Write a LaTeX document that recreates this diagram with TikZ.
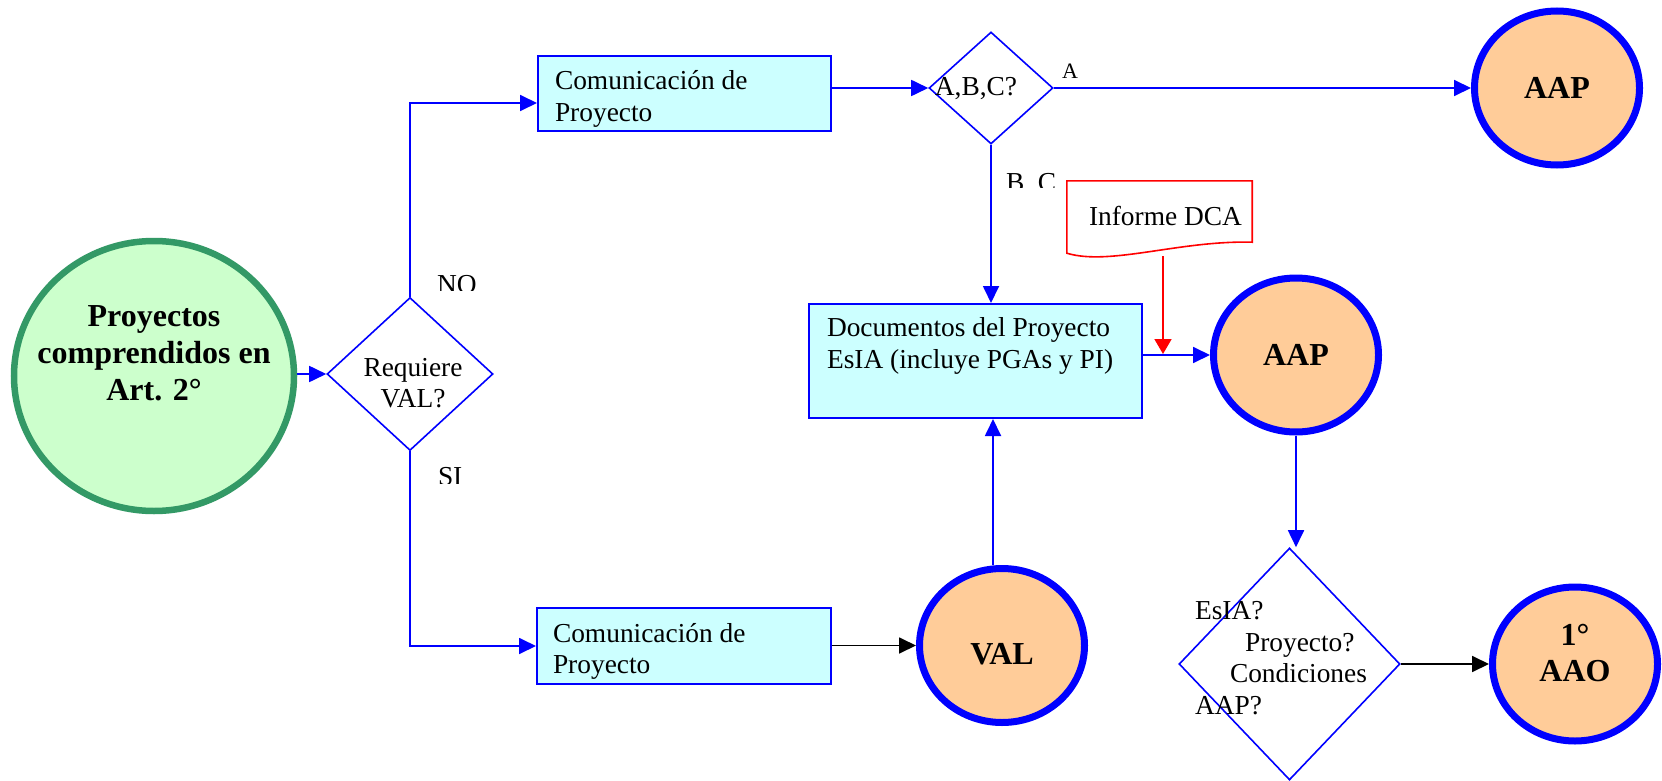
\documentclass[tikz,border=0pt]{standalone}
\usepackage{fontspec}
\setmainfont{Liberation Serif}
\usetikzlibrary{shapes.geometric,arrows.meta,calc}

\definecolor{flowblue}{HTML}{0000FF}
\definecolor{boxfill}{HTML}{CCFFFF}
\definecolor{termfill}{HTML}{FFCC99}
\definecolor{startfill}{HTML}{CCFFCC}
\definecolor{startline}{HTML}{339966}
\definecolor{noteline}{HTML}{FF0000}

\tikzset{
  plain/.style={font=\fontsize{27.4}{31.6}\selectfont, inner sep=0pt, outer sep=0pt},
  small/.style={font=\fontsize{22}{26}\selectfont, inner sep=0pt, outer sep=0pt},
  heavy/.style={font=\fontsize{32}{36.8}\selectfont\bfseries, inner sep=0pt, outer sep=0pt, align=center},
  procbox/.style={rectangle, draw=flowblue, line width=2pt, fill=boxfill, inner sep=0pt},
  decision/.style={diamond, draw=flowblue, line width=1.6pt, fill=white, inner sep=0pt, aspect=1},
  terminal/.style={ellipse, draw=flowblue, line width=7pt, fill=termfill, inner sep=0pt,
    minimum width=165pt, minimum height=154pt,
    font=\fontsize{32}{36.8}\selectfont\bfseries},
  tip/.style={-{Triangle[length=17pt,width=16pt]}},
  flow/.style={tip, draw=flowblue, line width=1.8pt},
  blackflow/.style={tip, draw=black, line width=1.8pt},
  redflow/.style={-{Triangle[length=15pt,width=17pt]}, draw=noteline, line width=1.8pt},
}

\begin{document}
\begin{tikzpicture}[x=1pt,y=-1pt]
  \useasboundingbox (0,0) rectangle (1662,781);
  \fill[white] (0,0) rectangle (1662,781);

  % start
  \node[ellipse, draw=startline, line width=6.5pt, fill=startfill, inner sep=0pt,
        minimum width=280pt, minimum height=270pt] (green) at (154,376) {};
  \node[heavy] (greentxt) at ($(green.center)+(0,-23)$) {Proyectos\\comprendidos en\\Art. 2°};

  % first decision
  \node[decision, minimum width=166pt, minimum height=153pt] (d1) at (410,374) {};
  \node[plain, align=center] (d1txt) at ($(d1.center)+(3,9)$) {Requiere\\VAL?};

  % upper branch
  \node[procbox, minimum width=293pt, minimum height=75pt] (box1) at (684.5,93.5) {};
  \node[plain, align=left, anchor=west] (box1txt) at ($(box1.west)+(18,5.5)$) {Comunicación de\\Proyecto};

  \node[decision, minimum width=124pt, minimum height=112pt] (d2) at (991,88) {};
  \node[plain] (d2txt) at ($(d2.center)+(-15,1)$) {A,B,C?};

  \node[terminal] (aap1) at (1557,88) {AAP};

  \node[procbox, minimum width=333pt, minimum height=114pt] (docs) at (975.5,361) {};
  \node[plain, align=left, anchor=west] (docstxt) at ($(docs.west)+(19,-15)$) {Documentos del Proyecto\\EsIA (incluye PGAs y PI)};

  % report document
  \node[minimum width=185pt, minimum height=72pt, inner sep=0pt] (dca) at (1159.5,217) {};
  \draw[noteline, line width=1.6pt, fill=white]
    (dca.north west) -- (dca.north east) -- ($(dca.south east)+(0,-11)$)
    .. controls ($(dca.south west)+(113,-13)$) and ($(dca.south west)+(43,13)$) .. (dca.south west)
    -- cycle;
  \node[plain, anchor=base west] (dcatxt) at (1089,225) {Informe DCA};
  \coordinate (dcaOut) at (1163,256);
  \coordinate (dcaIn) at (1163,354);

  \node[terminal] (aap2) at (1296,355) {AAP};

  \node[decision, minimum width=221pt, minimum height=232pt] (d3) at (1289.5,664) {};
  \node[plain, align=left, anchor=west] (d3txt) at (1195,658)
    {EsIA?\\\hspace*{50pt}Proyecto?\\\hspace*{35pt}Condiciones\\AAP?};

  \node[terminal] (aao) at (1575,664) {};
  \node[heavy] (aaotxt) at ($(aao.center)+(0,-11)$) {1°\\AAO};

  % lower branch
  \node[procbox, minimum width=294pt, minimum height=76pt] (box3) at (684,646) {};
  \node[plain, align=left, anchor=west] (box3txt) at ($(box3.west)+(17,5.5)$) {Comunicación de\\Proyecto};

  \node[terminal] (val) at (1002,645.5) {};
  \node[heavy] (valtxt) at ($(val.center)+(0,9)$) {VAL};
  \coordinate (valTop) at ($(val.north)+(-9,0)$);

  % connectors
  \draw[flow] (green.east |- d1.west) -- (d1.west);
  \draw[flow] (d1.north) |- ($(box1.west)+(0,9.5)$);
  \draw[flow] (d1.south) |- (box3.west);
  \draw[flow] (box1.east |- d2.west) -- (d2.west);
  \draw[flow] (d2.east) -- (aap1.west);
  \draw[flow] (d2.south) -- (d2.south |- docs.north);
  \draw[flow] (docs.east |- aap2.west) -- (aap2.west);
  \draw[redflow] (dcaOut) -- (dcaIn);
  \draw[flow] (valTop) -- (valTop |- docs.south);
  \draw[blackflow] (box3.east |- val.west) -- (val.west);
  \draw[flow] (aap2.south) -- (aap2.south |- d3.north);
  \draw[blackflow] (d3.east) -- (d3.east -| aao.west);

  % branch labels (their frames cut the lower edge of the letters)
  \node[small, anchor=base west] (lblA) at (1062,78.3) {A};
  \begin{scope}
    \clip (425,255) rectangle (500,290);
    \node[plain, anchor=base west] (lblNO) at (437,293) {NO};
  \end{scope}
  \begin{scope}
    \clip (425,450) rectangle (500,483);
    \node[plain, anchor=base west] (lblSI) at (438,485) {SI};
  \end{scope}
  \begin{scope}
    \clip (1000,160) rectangle (1062,187);
    \node[plain, anchor=base west] (lblBC) at (1006,191) {B, C};
  \end{scope}
\end{tikzpicture}
\end{document}
